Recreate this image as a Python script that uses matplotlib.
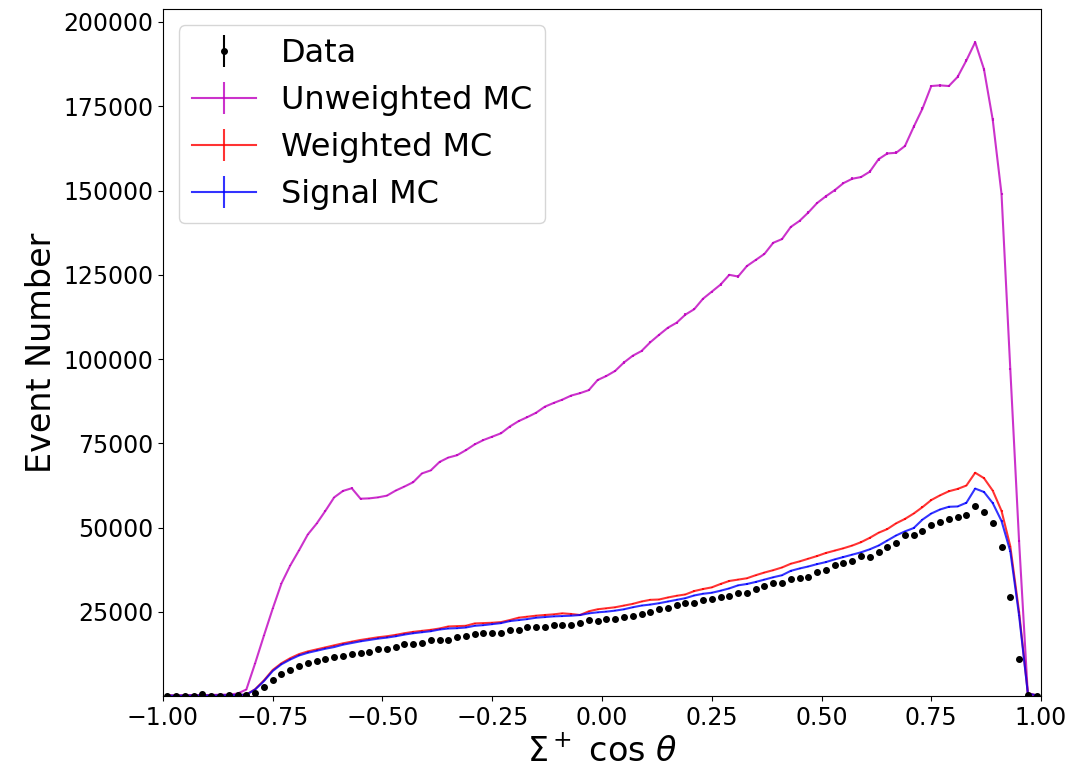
import numpy as np
import matplotlib
matplotlib.use('Agg')
import matplotlib.pyplot as plt

# 100 bins in Sigma+ cos(theta), from -1 to 1
bin_edges = np.linspace(-1.0, 1.0, 101)

data_counts = [
    150, 100, 200, 150, 700, 150, 200, 250, 300, 400,
    1000, 2800, 4800, 6500, 7800, 9000, 9800, 10600, 11200, 11600,
    12000, 12500, 12900, 13000, 13900, 13900, 14500, 15400, 15400, 15900,
    16700, 16700, 16700, 17500, 17900, 18400, 18700, 18700, 18700, 19700,
    19700, 20500, 20600, 20600, 21100, 21100, 21100, 21600, 22600, 22400,
    22900, 22800, 23400, 23900, 24300, 24900, 25800, 26300, 27000, 27600,
    27600, 28600, 28900, 29400, 29800, 30700, 30700, 31700, 32700, 33500,
    33500, 34700, 35000, 35500, 37000, 37500, 38900, 39600, 40200, 41600,
    41200, 42900, 44400, 45600, 47800, 47800, 49100, 50800, 51800, 52500,
    53100, 53800, 56400, 54600, 51300, 44400, 29400, 11100, 300, 100,
]

unweighted_mc = [
    300, 250, 300, 350, 300, 400, 450, 500, 800, 2000,
    9800, 18000, 26000, 33500, 38800, 43300, 48000, 51200, 55000, 59000,
    60900, 61700, 58600, 58700, 59000, 59500, 61000, 62200, 63500, 66100,
    67000, 69500, 70800, 71500, 73000, 74700, 76000, 77000, 78000, 80000,
    81600, 82800, 84100, 85900, 87000, 88000, 89200, 89900, 90800, 93800,
    95000, 96500, 99000, 101000, 102400, 105000, 107200, 109300, 110800, 113200,
    114800, 117900, 120000, 122100, 125000, 124500, 127600, 129400, 131200, 134500,
    135600, 139200, 141000, 143500, 146300, 148300, 150100, 152200, 153500, 154000,
    155600, 159300, 161000, 161200, 163200, 168900, 174300, 181000, 181200, 181000,
    183700, 188600, 194000, 186000, 171000, 149000, 97000, 46000, 500, 300,
]

weighted_mc = [
    200, 150, 200, 200, 250, 200, 250, 300, 350, 500,
    2100, 4700, 7800, 9800, 11300, 12500, 13300, 13900, 14500, 15100,
    15700, 16200, 16700, 17100, 17500, 17800, 18200, 18700, 19100, 19400,
    19700, 20100, 20700, 20800, 20900, 21600, 21700, 21800, 22000, 22600,
    23300, 23600, 23900, 24100, 24300, 24600, 24400, 24100, 25200, 25800,
    26100, 26400, 26900, 27400, 28100, 28600, 28700, 29300, 29800, 30200,
    31200, 31800, 32300, 33300, 34200, 34600, 35000, 35900, 36700, 37400,
    38200, 39300, 40000, 40800, 41600, 42500, 43200, 43900, 44700, 45700,
    47000, 48500, 49600, 51300, 52600, 54200, 56100, 58200, 59600, 60800,
    61500, 62500, 66300, 64700, 61000, 55000, 44500, 25000, 900, 300,
]

signal_mc = [
    200, 150, 200, 200, 250, 200, 250, 300, 350, 500,
    2000, 4500, 7500, 9500, 10900, 12100, 12900, 13500, 14100, 14600,
    15300, 15800, 16300, 16700, 17100, 17400, 17800, 18300, 18700, 19000,
    19300, 19800, 20100, 20200, 20400, 20900, 21100, 21400, 21700, 22300,
    22600, 22900, 23300, 23500, 23700, 23800, 23900, 24100, 24600, 24900,
    25100, 25400, 25800, 26400, 26900, 27200, 27600, 28100, 28600, 29100,
    29900, 30400, 30700, 31300, 32000, 32900, 33300, 33900, 34600, 35300,
    35900, 37200, 37900, 38500, 39200, 39800, 40600, 41300, 42000, 42700,
    43600, 44700, 46200, 47700, 48900, 49900, 52400, 54200, 55400, 56200,
    56300, 57400, 61600, 60600, 57300, 52000, 43000, 24000, 800, 300,
]

centers = 0.5 * (bin_edges[:-1] + bin_edges[1:])

fig = plt.figure(figsize=(10.77, 7.72), dpi=100)
ax = fig.add_axes([0.1513, 0.0981, 0.8153, 0.8896])

data = np.array(data_counts, dtype=float)
ax.errorbar(centers, data, yerr=np.sqrt(data), fmt='k.', markersize=8,
            label='Data', zorder=5)

for values, color, name in [(unweighted_mc, 'm', 'Unweighted MC'),
                            (weighted_mc, 'r', 'Weighted MC'),
                            (signal_mc, 'b', 'Signal MC')]:
    v = np.array(values, dtype=float)
    ax.errorbar(centers, v, yerr=np.sqrt(v), color=color, alpha=0.8,
                linewidth=1.5, label=name)

ax.set_xlim(-1, 1)
ax.set_ylim(1, 203700)
ax.set_xlabel(r'$\Sigma^+$ cos $\theta$', fontsize=24)
ax.set_ylabel('Event Number', fontsize=24)
ax.tick_params(labelsize=17)
ax.legend(loc='upper left', fontsize=23)

fig.savefig('out.png', dpi=100)
